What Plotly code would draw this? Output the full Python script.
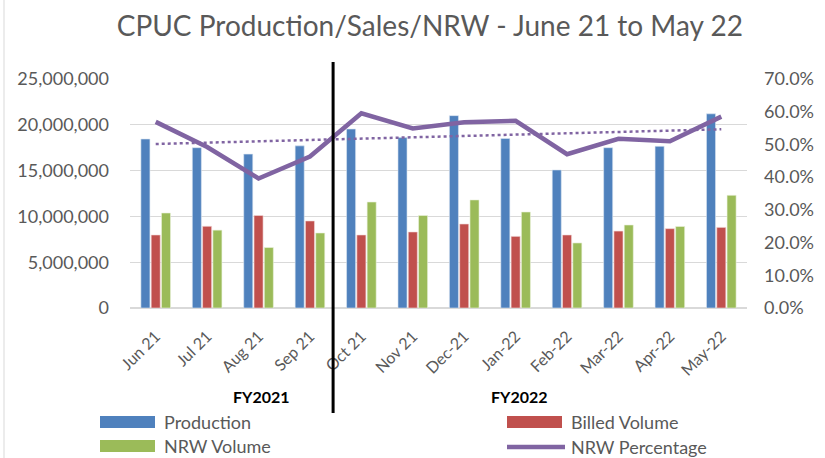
import numpy as np
import plotly.graph_objects as go

months = ["Jun 21", "Jul 21", "Aug 21", "Sep 21", "Oct 21", "Nov 21",
          "Dec-21", "Jan-22", "Feb-22", "Mar-22", "Apr-22", "May-22"]
production = [18450000, 17500000, 16800000, 17700000, 19540000, 18600000,
              21000000, 18500000, 15070000, 17500000, 17650000, 21200000]
billed = [7970000, 8920000, 10100000, 9500000, 7970000, 8300000,
          9170000, 7820000, 7970000, 8400000, 8660000, 8800000]
nrw_volume = [10370000, 8500000, 6600000, 8190000, 11570000, 10100000,
              11800000, 10480000, 7100000, 9060000, 8900000, 12300000]
nrw_pct = [0.569, 0.492, 0.396, 0.463, 0.595, 0.549,
           0.568, 0.572, 0.470, 0.517, 0.510, 0.585]

# linear trendline of NRW percentage (as in the original chart)
idx = np.arange(len(nrw_pct))
slope, intercept = np.polyfit(idx, nrw_pct, 1)
trend = list(slope * idx + intercept)

BLUE = "#4F81BD"
RED = "#C0504D"
GREEN = "#9BBB59"
PURPLE = "#8064A2"
GRAY = "#595959"
FONT = "Lato"

# plot area in pixels: x 130..747, y 79..308
L, R, T, B = 130, 747, 79, 308
W, H = R - L, B - T


def px(x):
    return (x - L) / W


def py(y):
    return (B - y) / H


fig = go.Figure()
fig.add_trace(go.Bar(x=months, y=production, name="Production",
                     marker=dict(color=BLUE, line=dict(color="#DCE6F2", width=0.6))))
fig.add_trace(go.Bar(x=months, y=billed, name="Billed Volume",
                     marker=dict(color=RED, line=dict(color="#F2DCDB", width=0.6))))
fig.add_trace(go.Bar(x=months, y=nrw_volume, name="NRW Volume",
                     marker=dict(color=GREEN, line=dict(color="#EBF1DE", width=0.6))))
fig.add_trace(go.Scatter(x=months, y=nrw_pct, name="NRW Percentage", yaxis="y2",
                         mode="lines", line=dict(color=PURPLE, width=4.5)))
fig.add_trace(go.Scatter(x=months, y=trend, name="Linear (NRW Percentage)", yaxis="y2",
                         mode="lines", line=dict(color=PURPLE, width=2.5, dash="dot")))

fig.update_layout(
    width=825, height=458,
    margin=dict(l=L, r=825 - R, t=T, b=458 - B, autoexpand=False),
    paper_bgcolor="white", plot_bgcolor="white",
    font=dict(family=FONT, color=GRAY, size=15),
    title=dict(text="CPUC Production/Sales/NRW - June 21 to May 22",
               x=0.521, xanchor="center", y=1 - 26 / 458, yanchor="middle",
               font=dict(size=28, color=GRAY, family=FONT)),
    barmode="group", bargap=0.4, bargroupgap=0.12,
    showlegend=False,
    xaxis=dict(tickangle=-45, tickfont=dict(size=16, color=GRAY), showgrid=False,
               showline=False, ticks="", automargin=False, ticklabelstandoff=15),
    yaxis=dict(range=[0, 25000000], dtick=5000000, tickformat=",",
               tickfont=dict(size=18, color=GRAY), gridcolor="#D9D9D9",
               zeroline=True, zerolinecolor="#D9D9D9", showline=False, ticks="",
               ticklabelstandoff=20, automargin=False),
    yaxis2=dict(range=[0, 0.7], dtick=0.1, tickformat=".1%", overlaying="y",
                side="right", showgrid=False, zeroline=False,
                tickfont=dict(size=18, color=GRAY), ticklabelstandoff=16,
                automargin=False),
)

fig.add_annotation(text="<b>FY2021</b>", x=px(261), y=py(396), xref="paper", yref="paper",
                   xanchor="center", yanchor="middle", showarrow=False,
                   font=dict(size=16, color="black", family=FONT))
fig.add_annotation(text="<b>FY2022</b>", x=px(519), y=py(396), xref="paper", yref="paper",
                   xanchor="center", yanchor="middle", showarrow=False,
                   font=dict(size=16, color="black", family=FONT))

# legend (drawn manually to match the wide Excel swatches)
legend_items = [
    ("Production", BLUE, "bar", 100, 422),
    ("Billed Volume", RED, "bar", 507, 422),
    ("NRW Volume", GREEN, "bar", 100, 446),
    ("NRW Percentage", PURPLE, "line", 507, 447),
]
for name, color, kind, lx, ly in legend_items:
    if kind == "bar":
        fig.add_shape(type="rect", xref="paper", yref="paper",
                      x0=px(lx), x1=px(lx + 55), y0=py(ly + 6), y1=py(ly - 6),
                      fillcolor=color, line=dict(width=0))
    else:
        fig.add_shape(type="line", xref="paper", yref="paper",
                      x0=px(lx), x1=px(lx + 58), y0=py(ly), y1=py(ly),
                      line=dict(color=color, width=4.5))
    fig.add_annotation(text=name, x=px(lx + 62), y=py(ly), xref="paper", yref="paper",
                       xanchor="left", yanchor="middle", showarrow=False,
                       font=dict(size=18, color=GRAY, family=FONT))

# divider between FY2021 and FY2022
fig.add_shape(type="line", xref="x", yref="paper", x0=3.45, x1=3.45,
              y0=py(413), y1=py(62), line=dict(color="black", width=3))
# chart frame on the left
fig.add_shape(type="line", xref="paper", yref="paper", x0=px(4), x1=px(4),
              y0=py(460), y1=py(-2), line=dict(color="#D9D9D9", width=1))

fig.write_html(
    "out.html",
    config={"displayModeBar": False},
    post_script="document.body.style.margin='0';document.body.style.padding='0';"
                "document.body.style.overflow='hidden';",
)
